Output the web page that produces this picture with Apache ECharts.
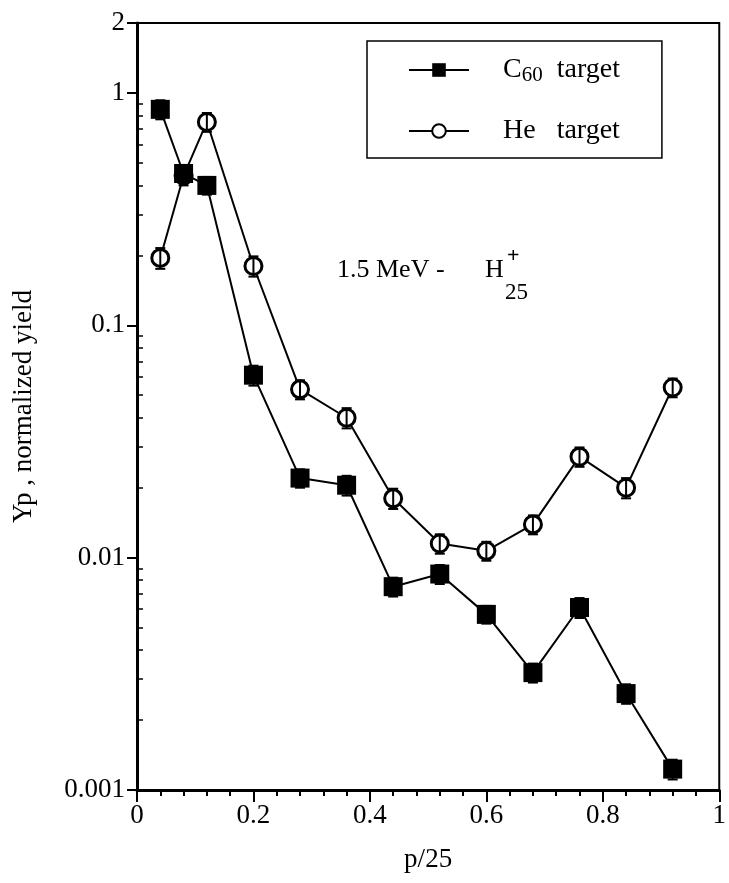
<!DOCTYPE html>
<html>
<head>
<meta charset="utf-8">
<script src="https://cdn.jsdelivr.net/npm/echarts@6/dist/echarts.min.js"></script>
<style>
  html, body { margin: 0; padding: 0; background: #fff; }
  #chart { width: 729px; height: 883px; }
</style>
</head>
<body>
<div id="chart"></div>
<script>
// p/25 positions and normalized yields
const c60X = [0.04, 0.08, 0.12, 0.2, 0.28, 0.36, 0.44, 0.52, 0.6, 0.68, 0.76, 0.84, 0.92];
const c60Y = [0.85, 0.45, 0.40, 0.061, 0.022, 0.0205, 0.0075, 0.0085, 0.0057, 0.0032, 0.0061, 0.0026, 0.00123];
const c60Err = [0.08, 0.04, 0.035, 0.006, 0.002, 0.002, 0.0007, 0.0008, 0.0005, 0.0003, 0.0006, 0.00025, 0.00012];

const heX = [0.04, 0.08, 0.12, 0.2, 0.28, 0.36, 0.44, 0.52, 0.6, 0.68, 0.76, 0.84, 0.92];
const heY = [0.195, 0.44, 0.75, 0.18, 0.053, 0.040, 0.018, 0.0115, 0.0107, 0.0139, 0.0272, 0.020, 0.054];
const heErr = [0.02, 0.04, 0.07, 0.018, 0.005, 0.004, 0.0018, 0.0011, 0.001, 0.0013, 0.0026, 0.002, 0.005];

const yMajorTicks = [0.001, 0.01, 0.1, 1, 2];
const yMinorTicks = [0.002, 0.003, 0.004, 0.005, 0.006, 0.007, 0.008, 0.009,
                     0.02, 0.03, 0.04, 0.05, 0.06, 0.07, 0.08, 0.09,
                     0.2, 0.3, 0.4, 0.5, 0.6, 0.7, 0.8, 0.9];

const FONT = "'Liberation Serif', 'Times New Roman', serif";

function pairs(xs, ys) {
    return xs.map((x, i) => [x, ys[i]]);
}
function errRows(xs, ys, errs) {
    return xs.map((x, i) => [x, ys[i] - errs[i], ys[i] + errs[i]]);
}

function renderErr(params, api) {
    const lo = api.coord([api.value(0), api.value(1)]);
    const hi = api.coord([api.value(0), api.value(2)]);
    const st = { stroke: '#000', lineWidth: 2 };
    return {
        type: 'group',
        children: [
            { type: 'line', shape: { x1: lo[0], y1: lo[1], x2: hi[0], y2: hi[1] }, style: st },
            { type: 'line', shape: { x1: lo[0] - 5, y1: lo[1], x2: lo[0] + 5, y2: lo[1] }, style: st },
            { type: 'line', shape: { x1: hi[0] - 5, y1: hi[1], x2: hi[0] + 5, y2: hi[1] }, style: st }
        ]
    };
}

const chart = echarts.init(document.getElementById('chart'));

chart.setOption({
    animation: false,
    backgroundColor: '#fff',
    textStyle: { fontFamily: FONT, color: '#000' },
    grid: {
        left: 137, right: 8, top: 23, bottom: 93,
        show: true, borderColor: '#000', borderWidth: 2
    },
    legend: {
        left: 367, top: 41,
        orient: 'vertical',
        data: ['C60 target', 'He target'],
        itemWidth: 60, itemHeight: 17,
        itemGap: 31,
        padding: [15, 42, 13, 41],
        borderColor: '#000', borderWidth: 1.5,
        backgroundColor: '#fff',
        formatter: function (name) {
            return name === 'C60 target' ? '{n|C}{s|60}{n|  target}' : '{n|He   target}';
        },
        textStyle: {
            padding: [0, 0, 0, 29],
            rich: {
                n: { fontFamily: FONT, fontSize: 28, color: '#000', lineHeight: 32 },
                s: { fontFamily: FONT, fontSize: 21, color: '#000', lineHeight: 14, verticalAlign: 'bottom' }
            }
        }
    },
    xAxis: {
        type: 'value', min: 0, max: 1, interval: 0.2,
        name: 'p/25', nameLocation: 'middle', nameGap: 56,
        nameTextStyle: { fontFamily: FONT, fontSize: 27, color: '#000' },
        axisLine: { lineStyle: { color: '#000', width: 3 } },
        axisTick: { length: 12, lineStyle: { color: '#000', width: 2 } },
        minorTick: { show: true, splitNumber: 5, length: 6, lineStyle: { color: '#000', width: 2 } },
        axisLabel: { fontFamily: FONT, fontSize: 27, color: '#000', margin: 12 },
        splitLine: { show: false }
    },
    yAxis: [{
        type: 'log', logBase: 10, min: 0.001, max: 2,
        name: 'Yp , normalized yield', nameLocation: 'middle', nameGap: 100,
        nameTextStyle: { fontFamily: FONT, fontSize: 27, color: '#000', padding: [0, 0, 0, 0] },
        axisLine: { lineStyle: { color: '#000', width: 3 } },
        axisTick: { customValues: yMajorTicks, length: 10, lineStyle: { color: '#000', width: 2 } },
        axisLabel: {
            customValues: yMajorTicks,
            fontFamily: FONT, fontSize: 27, color: '#000', margin: 12,
            formatter: v => String(v)
        },
        splitLine: { show: false }
    }, {
        type: 'log', logBase: 10, min: 0.001, max: 2,
        position: 'left',
        axisLine: { show: false },
        axisTick: { customValues: yMinorTicks, inside: true, length: 6, lineStyle: { color: '#000', width: 1.5 } },
        axisLabel: { show: false },
        splitLine: { show: false }
    }],
    graphic: [
        { type: 'text', left: 337, top: 257, style: { text: '1.5 MeV -', font: '26px ' + FONT, fill: '#000' } },
        { type: 'text', left: 485, top: 257, style: { text: 'H', font: '26px ' + FONT, fill: '#000' } },
        { type: 'text', left: 507, top: 245, style: { text: '+', font: 'bold 22px ' + FONT, fill: '#000' } },
        { type: 'text', left: 505, top: 281, style: { text: '25', font: '23px ' + FONT, fill: '#000' } }
    ],
    series: [{
        name: 'He target',
        type: 'line',
        data: pairs(heX, heY),
        symbol: 'circle', symbolSize: 17,
        itemStyle: { color: '#fff', borderColor: '#000', borderWidth: 3 },
        lineStyle: { color: '#000', width: 2 },
        z: 2
    }, {
        name: 'He err',
        type: 'custom',
        data: errRows(heX, heY, heErr),
        encode: { x: 0, y: [1, 2] },
        renderItem: renderErr,
        z: 3
    }, {
        name: 'C60 target',
        type: 'line',
        data: pairs(c60X, c60Y),
        symbol: 'rect', symbolSize: 19,
        itemStyle: { color: '#000' },
        lineStyle: { color: '#000', width: 2 },
        z: 4
    }, {
        name: 'C60 err',
        type: 'custom',
        data: errRows(c60X, c60Y, c60Err),
        encode: { x: 0, y: [1, 2] },
        renderItem: renderErr,
        z: 5
    }]
});
</script>
</body>
</html>
